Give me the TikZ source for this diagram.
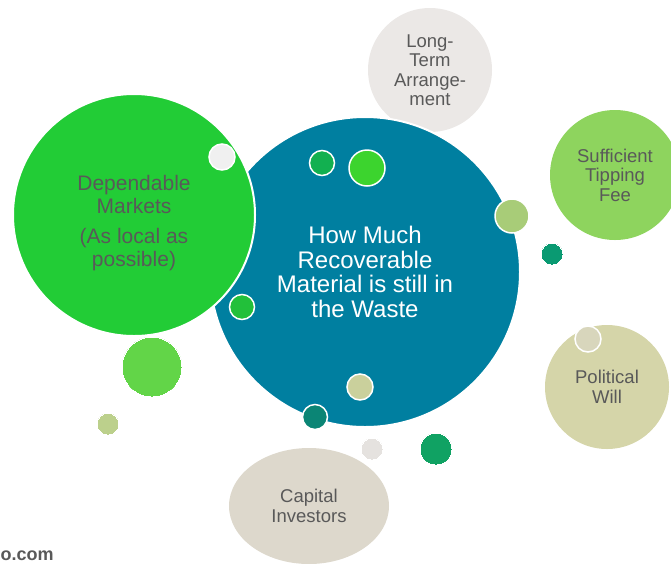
\documentclass[tikz,border=0pt]{standalone}
\usepackage{fontspec}
\setmainfont{Liberation Sans}
\usetikzlibrary{shapes.geometric}

\definecolor{hubteal}{HTML}{007FA0}
\definecolor{marketgreen}{HTML}{22CC36}
\definecolor{longgray}{HTML}{EBE8E6}
\definecolor{tippinggreen}{HTML}{8ED45E}
\definecolor{politicalkhaki}{HTML}{D5D5A9}
\definecolor{capitalbeige}{HTML}{DDD8CC}
\definecolor{labelgray}{HTML}{595959}

\begin{document}
\begin{tikzpicture}[x=1pt, y=-1pt,
    bubble/.style={circle, inner sep=0pt, align=center, text=labelgray,
      font=\fontsize{18.5}{19.5}\selectfont},
    rim/.style={draw=white, line width=2pt},
    dot/.style={circle, inner sep=0pt, minimum size=#1}]
  \useasboundingbox (0,0) rectangle (671,563);

  % Big bubbles:
  \node[bubble, fill=longgray, minimum size=124pt] (longterm) at (430,70)
    {Long-\\Term\\Arrange-\\ment};
  \node[bubble, rim, fill=hubteal, minimum size=310pt, text=white,
    font=\fontsize{24}{24.5}\selectfont] (hub) at (365,272)
    {How Much\\Recoverable\\Material is still in\\the Waste};
  \node[bubble, rim, fill=marketgreen, minimum size=242pt] (markets) at (134,215) {};
  \node[align=center, text=labelgray, font=\fontsize{21}{22.5}\selectfont]
    (marketstext) at ([yshift=-8pt]markets.center)
    {Dependable\\Markets\\[8pt](As local as\\possible)};
  \node[bubble, fill=tippinggreen, minimum size=130pt] (tipping) at (615,175)
    {Sufficient\\Tipping\\Fee};
  \node[bubble, fill=politicalkhaki, minimum size=124pt] (political) at (607,387)
    {Political\\Will};
  \node[ellipse, inner sep=0pt, align=center, text=labelgray,
    font=\fontsize{18.5}{20}\selectfont, fill=capitalbeige,
    minimum width=160pt, minimum height=116pt] (capital) at (309,506)
    {Capital\\Investors};

  % Small dots:
  \foreach \x/\y/\r/\c/\w [count=\i] in {
      222/157/26/F0F0F0/1.5,  322/163/25/12B050/1.5,  367/168/36/3CD42E/1.5,
      512/216/34/A8CC78/1.5,  552/254/22/0A9A72/0,    242/307/25/22C03A/1.5,
      152/367/60/62D548/0,    108/424/22/BCD08C/0,    360/387/26/CAD09C/1.5,
      315/417/25/0B8575/1.5,  372/449/22/E5E2DF/0,    436/449/32/10A263/0,
      588/339/26/D8D6BC/1.5}
  {
    \definecolor{dotfill}{HTML}{\c}
    \node[dot=\r pt, fill=dotfill, draw=white, line width=\w pt] (dot\i) at (\x,\y) {};
  }

  \node[anchor=base west, inner sep=0pt, text=labelgray,
    font=\fontsize{18}{20}\selectfont\bfseries] (site) at (0.5,560) {o.com};
\end{tikzpicture}
\end{document}
